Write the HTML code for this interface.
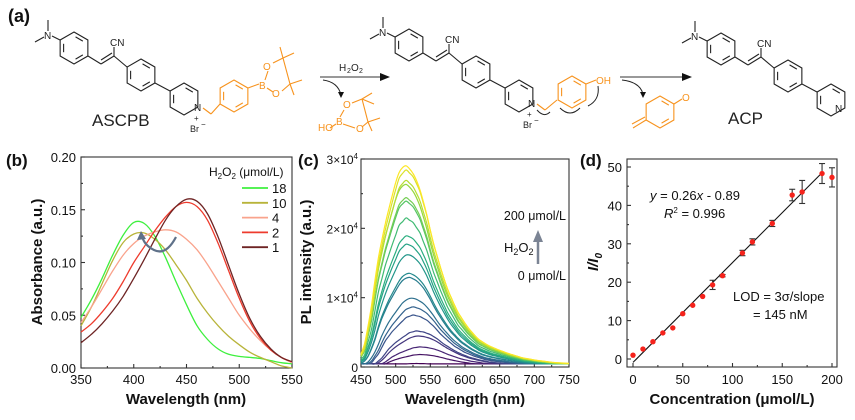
<!DOCTYPE html>
<html><head><meta charset="utf-8"><style>
html,body{margin:0;padding:0;background:#fff}
svg{display:block;font-family:"Liberation Sans",Arial,sans-serif}
</style></head><body>
<svg id="fig" width="855" height="420" viewBox="0 0 855 420" xmlns="http://www.w3.org/2000/svg">
<g id="scheme"></g>
<g id="pb"></g>
<g id="pc"></g>
<g id="pd"></g>
</svg>
<script>
// ---- panel b data ----
const absWl = [350,360,370,380,390,400,410,420,430,440,450,460,470,480,490,500,510,520,530,540,550];
const absLabels = ["18","10","4","2","1"];
const abs18 = [0.048,0.065,0.085,0.107,0.126,0.138,0.137,0.125,0.105,0.082,0.060,0.040,0.027,0.018,0.013,0.011,0.010,0.009,0.007,0.005,0.004];
const abs10 = [0.040,0.058,0.080,0.102,0.119,0.127,0.128,0.122,0.112,0.098,0.083,0.066,0.052,0.040,0.030,0.022,0.015,0.010,0.006,0.002,0.000];
const abs4  = [0.043,0.058,0.075,0.092,0.107,0.118,0.125,0.129,0.131,0.129,0.122,0.112,0.098,0.082,0.066,0.050,0.037,0.026,0.017,0.010,0.005];
const abs2  = [0.034,0.042,0.053,0.066,0.082,0.100,0.115,0.130,0.143,0.153,0.157,0.153,0.140,0.118,0.092,0.066,0.044,0.028,0.017,0.010,0.006];
const abs1  = [0.024,0.032,0.042,0.054,0.068,0.085,0.103,0.122,0.140,0.153,0.160,0.158,0.146,0.124,0.097,0.070,0.047,0.030,0.018,0.010,0.006];
const absYTicks = ["0.00","0.05","0.10","0.15","0.20"];
const absXTicks = [350,400,450,500,550];
// ---- panel c data ----
const plPeaks = [500,1800,2900,4500,5200,7500,8700,10000,13000,13600,16300,17800,19000,21500,24000,24500,26500,27000,28500,29200];
const plPeakWl = [530,535,535,532,530,525,524,522,518,518,517,516,516,515,514,514,513,514,514,513];
const plProfileDx = [-70,-60,-50,-40,-30,-20,-10,0,10,20,30,40,50,60,75,90,105,120,135,150,170,190,215,240];
const plProfile = [0.03,0.08,0.25,0.5,0.68,0.82,0.95,1,0.97,0.9,0.78,0.63,0.51,0.40,0.28,0.20,0.14,0.107,0.085,0.066,0.045,0.033,0.022,0.017];
const plXTicks = [450,500,550,600,650,700,750];
const plYTicks = [0,1,2,3];
// ---- panel d data ----
const concX = [0,10,20,30,40,50,60,70,80,90,110,120,140,160,170,190,200];
const ratioY = [1.0,2.6,4.5,6.8,8.1,11.8,14.0,16.3,19.3,21.7,27.6,30.5,35.3,42.7,43.5,48.3,47.3];
const ratioErr = [0.2,0.2,0.2,0.2,0.2,0.2,0.2,0.2,1.2,0.3,0.7,0.8,0.8,1.5,3.0,2.6,2.5];
const fitSlope = [0.26];
const fitIntercept = [-0.89];
const dXTicks = [0,50,100,150,200];
const dYTicks = [0,10,20,30,40,50];

const NS="http://www.w3.org/2000/svg";
function mk(p,tag,at,txt){const e=document.createElementNS(NS,tag);for(const k in at)e.setAttribute(k,at[k]);if(txt!==undefined)e.textContent=txt;p.appendChild(e);return e;}
function smooth(pts){let d="M"+pts[0][0].toFixed(1)+","+pts[0][1].toFixed(1);for(let i=0;i<pts.length-1;i++){const p0=pts[Math.max(0,i-1)],p1=pts[i],p2=pts[i+1],p3=pts[Math.min(pts.length-1,i+2)];const c1=[p1[0]+(p2[0]-p0[0])/6,p1[1]+(p2[1]-p0[1])/6],c2=[p2[0]-(p3[0]-p1[0])/6,p2[1]-(p3[1]-p1[1])/6];d+="C"+c1[0].toFixed(1)+","+c1[1].toFixed(1)+" "+c2[0].toFixed(1)+","+c2[1].toFixed(1)+" "+p2[0].toFixed(1)+","+p2[1].toFixed(1);}return d;}

// ================= Scheme =================
const S=document.getElementById('scheme');
function line(g,x1,y1,x2,y2,c){return mk(g,'line',{x1,y1,x2,y2,stroke:c||'#222','stroke-width':1.1});}
function hex(g,cx,cy,c,dbl){const r=16,v=[];for(let k=0;k<6;k++){const a=(-90+60*k)*Math.PI/180;v.push([cx+r*Math.cos(a),cy+r*Math.sin(a)]);}
 mk(g,'polygon',{points:v.map(p=>p.join(',')).join(' '),fill:'none',stroke:c,'stroke-width':1.1});
 (dbl||[0,2,4]).forEach(k=>{const a=v[k],b=v[(k+1)%6];const s=0.75;const ax=cx+(a[0]-cx)*s,ay=cy+(a[1]-cy)*s,bx=cx+(b[0]-cx)*s,by=cy+(b[1]-cy)*s;const sh=0.15;line(g,ax+(bx-ax)*sh,ay+(by-ay)*sh,bx-(bx-ax)*sh,by-(by-ay)*sh,c);});}
function txt(g,x,y,t,sz,c,anchor){return mk(g,'text',{x,y,'font-size':sz||10,fill:c||'#222','text-anchor':anchor||'start'},t);}
function core(dx,dy,label){
 const g=mk(S,'g',{});
 
 
 const k='#222';
 hex(g,74+dx,48+dy,k);
 line(g,60+dx,40+dy,52+dx,36+dy,k);txt(g,44+dx,39+dy,'N',10);
 line(g,48+dx,31+dy,48+dx,20+dy,k);line(g,44+dx,37+dy,35+dx,42+dy,k);
 line(g,88+dx,56+dy,101+dx,64+dy,k);line(g,101+dx,64+dy,114+dx,56+dy,k);line(g,101+dx,60+dy,112+dx,53+dy,k);
 line(g,114+dx,56+dy,114+dx,47+dy,k);txt(g,110+dx,46+dy,'CN',10);
 line(g,114+dx,56+dy,127+dx,67+dy,k);
 hex(g,141+dx,75+dy,k);
 line(g,155+dx,83+dy,170+dx,91+dy,k);
 hex(g,184+dx,99+dy,k,[0,4]);
 return g;}
// mol 1
const m1=core(0,0,'ascpb-structure');
txt(m1,194,111,'N',10);txt(m1,194,121,'+',8);txt(m1,190,132,'Br',9);txt(m1,201,127,'−',8);
const O='#f7931e';
line(m1,203,108,211,114,O);line(m1,211,114,220,104,O);
hex(m1,234,96,O);line(m1,248,88,259,84,O);txt(m1,259,89,'B',10,O);
line(m1,265,80,268,71,O);txt(m1,263,70,'O',10,O);line(m1,267,88,273,92,O);txt(m1,272,97,'O',10,O);
line(m1,273,63,283,58,O);line(m1,282,91,290,84,O);line(m1,283,58,290,84,O);
line(m1,283,58,280,47,O);line(m1,283,58,294,53,O);line(m1,290,84,302,80,O);line(m1,290,84,294,95,O);
txt(m1,92,126,'ASCPB',17,'#222');
// arrow 1
const a1=mk(S,'g',{});


line(a1,320,77,382,77,'#333');mk(a1,'polygon',{points:'390,77 380,73 380,81',fill:'#111'});
txt(a1,339,71,'H',10);txt(a1,347,73,'2',7);txt(a1,351,71,'O',10);txt(a1,359,73,'2',7);
mk(a1,'path',{d:'M323,80 Q338,82 341,95',fill:'none',stroke:'#222','stroke-width':1});mk(a1,'polygon',{points:'341,98 338,92 344,92',fill:'#111'});
txt(a1,343,108,'O',10,O);txt(a1,336,125,'B',10,O);txt(a1,356,132,'O',10,O);txt(a1,318,131,'HO',10,O);
line(a1,330,128,336,124,O);line(a1,340,117,344,110,O);line(a1,343,124,355,128,O);
line(a1,352,103,362,99,O);line(a1,362,99,368,122,O);line(a1,362,127,368,122,O);line(a1,362,99,372,93,O);line(a1,362,99,374,104,O);line(a1,368,122,380,118,O);line(a1,368,122,372,131,O);
// mol 2
const m2=core(335,-3,'intermediate-structure');
txt(m2,528,107,'N',10);txt(m2,527,117,'+',8);txt(m2,523,128,'Br',9);txt(m2,534,123,'−',8);
line(m2,537,104,545,110,O);line(m2,545,110,557,100,O);hex(m2,572,92,O);line(m2,586,84,596,80,O);txt(m2,596,84,'OH',10,O);
mk(m2,'path',{d:'M537,110 Q544,118 550,112 M560,108 Q570,118 580,108 M598,86 Q600,100 588,106',fill:'none',stroke:'#222','stroke-width':1});
// arrow 2
const a2=mk(S,'g',{});


line(a2,620,77,684,77,'#333');mk(a2,'polygon',{points:'692,77 682,73 682,81',fill:'#111'});
mk(a2,'path',{d:'M622,80 Q640,82 643,94',fill:'none',stroke:'#222','stroke-width':1});mk(a2,'polygon',{points:'643,98 640,92 646,92',fill:'#111'});
hex(a2,660,112,O,[0,2]);line(a2,646,120,633,128,O);line(a2,645,117,632,124,O);line(a2,674,104,682,99,O);txt(a2,682,101,'O',10,O);
// mol 3
const m3=core(647,1,'acp-structure');
txt(m3,835,112,'N',10);
txt(m3,728,124,'ACP',17,'#222');
txt(S,8,22,'(a)',18,'#111').setAttribute('font-weight','bold');

// ================= generic axis =================
function frame(g,L,R,T,B){mk(g,'rect',{x:L,y:T,width:R-L,height:B-T,fill:'none',stroke:'#333','stroke-width':1.1});}

// ================= Panel b =================
(function(){
 const g=document.getElementById('pb');
 const L=81,R=292,T=157,B=368;
 const xs=v=>L+(v-350)/200*(R-L), ys=v=>B-v/0.2*(B-T);
 frame(g,L,R,T,B);
 absXTicks.forEach(v=>{line(g,xs(v),B,xs(v),B-4,'#333');const t=txt(g,xs(v),384,String(v),13,'#111','middle');});
 for(let v=375;v<550;v+=50)line(g,xs(v),B,xs(v),B-2,'#333');
 absYTicks.forEach(s=>{const v=parseFloat(s);line(g,L,ys(v),L+4,ys(v),'#333');const t=txt(g,L-5,ys(v)+5,s,13,'#111','end');});
 for(let v=0.025;v<0.2;v+=0.05)line(g,L,ys(v),L+2,ys(v),'#333');
 const series=[abs18,abs10,abs4,abs2,abs1], cols=['#3ef03e','#b8b43a','#f9a38c','#ee3b2d','#6e2424'];
 series.forEach((s,i)=>{const p=mk(g,'path',{d:smooth(absWl.map((w,j)=>[xs(w),ys(s[j])])),fill:'none',stroke:cols[i],'stroke-width':1.3});});
 // legend
 const lg=mk(g,'g',{});
 
 
 const lt=mk(lg,'text',{x:209,y:176,'font-size':12,fill:'#111'});lt.innerHTML='H<tspan font-size="8" dy="3">2</tspan><tspan dy="-3">O</tspan><tspan font-size="8" dy="3">2</tspan><tspan dy="-3"> (μmol/L)</tspan>';
 absLabels.forEach((l,i)=>{const y=188+i*14.8;const e=mk(lg,'g',{});line(e,242,y,268,y,cols[i]).setAttribute('stroke-width',1.8);txt(e,272,y+5,l,13,'#111');});
 mk(g,'path',{d:'M176,237 Q166,256 154,250 Q144,245 142,236',fill:'none',stroke:'#5f7189','stroke-width':2.2});
 mk(g,'polygon',{points:'141,231 137,240 146,239',fill:'#5f7189'});
 const xt=txt(g,186,404,'Wavelength (nm)',15,'#111','middle');xt.setAttribute('font-weight','bold');
 const yt=txt(g,0,0,'Absorbance (a.u.)',15,'#111','middle');yt.setAttribute('font-weight','bold');yt.setAttribute('transform','translate(42,262) rotate(-90)');
 const pl=txt(g,6,166,'(b)',17,'#111');pl.setAttribute('font-weight','bold');
})();

// ================= Panel c =================
(function(){
 const g=document.getElementById('pc');
 const L=361,R=569,T=159,B=367;
 const xs=v=>L+(v-450)/300*(R-L), ys=v=>B-v/30000*(B-T);
 frame(g,L,R,T,B);
 plXTicks.forEach(v=>{line(g,xs(v),B,xs(v),B-4,'#333');const t=txt(g,xs(v),384,String(v),13,'#111','middle');});
 for(let v=475;v<750;v+=50)line(g,xs(v),B,xs(v),B-2,'#333');
 plYTicks.forEach(v=>{line(g,L,ys(v*1e4),L+4,ys(v*1e4),'#333');const t=mk(g,'text',{x:L-3,y:ys(v*1e4)+5,'font-size':12,fill:'#111','text-anchor':'end'});if(v===0)t.textContent='0';else t.innerHTML=v+'×10<tspan font-size="8" dy="-5">4</tspan>';});
 for(let v=5000;v<30000;v+=10000)line(g,L,ys(v),L+2,ys(v),'#333');
 function viridis(t){const st=[[68,1,84],[71,44,122],[59,81,139],[44,113,142],[33,144,141],[39,173,129],[92,200,99],[170,220,50],[253,231,37]];const f=t*(st.length-1),i=Math.min(st.length-2,Math.floor(f)),u=f-i;return 'rgb('+st[i].map((c,k)=>Math.round(c+(st[i+1][k]-c)*u)).join(',')+')';}
 const wls=[];for(let w=450;w<=750;w+=5)wls.push(w);
 function prof(dx){if(dx<=plProfileDx[0])return plProfile[0];for(let i=0;i<plProfileDx.length-1;i++){if(dx<=plProfileDx[i+1]){const u=(dx-plProfileDx[i])/(plProfileDx[i+1]-plProfileDx[i]);return plProfile[i]+(plProfile[i+1]-plProfile[i])*u;}}return plProfile[plProfile.length-1];}
 plPeaks.forEach((pk,i)=>{const floor=Math.min(500,pk);const pts=wls.map(w=>[xs(w),ys(Math.max(floor*0.9,pk*prof(w-plPeakWl[i])))]);const p=mk(g,'path',{d:smooth(pts),fill:'none',stroke:viridis(i/(plPeaks.length-1)),'stroke-width':1.2});});
 txt(g,566,220,'200 μmol/L',12.5,'#111','end');
 const h=mk(g,'text',{x:504,y:252,'font-size':13,fill:'#111'});h.innerHTML='H<tspan font-size="9" dy="3">2</tspan><tspan dy="-3">O</tspan><tspan font-size="9" dy="3">2</tspan>';
 line(g,538,264,538,240,'#7b8494').setAttribute('stroke-width',2.5);mk(g,'polygon',{points:'538,230 533,242 543,242',fill:'#7b8494'});
 txt(g,566,280,'0 μmol/L',12.5,'#111','end');
 const xt=txt(g,465,404,'Wavelength (nm)',15,'#111','middle');xt.setAttribute('font-weight','bold');
 const yt=txt(g,0,0,'PL intensity (a.u.)',15,'#111','middle');yt.setAttribute('font-weight','bold');yt.setAttribute('transform','translate(311,262) rotate(-90)');
 const pl=txt(g,298,166,'(c)',17,'#111');pl.setAttribute('font-weight','bold');
})();

// ================= Panel d =================
(function(){
 const g=document.getElementById('pd');
 const L=627,R=837,T=159,B=367;
 const xs=v=>633+v/200*(832-633), ys=v=>359-v/50*(359-167);
 frame(g,L,R,T,B);
 dXTicks.forEach(v=>{line(g,xs(v),B,xs(v),B-4,'#333');const t=txt(g,xs(v),384,String(v),13,'#111','middle');});
 for(let v=25;v<200;v+=50)line(g,xs(v),B,xs(v),B-2,'#333');
 dYTicks.forEach(v=>{line(g,L,ys(v),L+4,ys(v),'#333');const t=txt(g,L-5,ys(v)+5,String(v),13,'#111','end');});
 for(let v=5;v<50;v+=10)line(g,L,ys(v),L+2,ys(v),'#333');
 const fl=line(g,xs(0),ys(fitIntercept[0]),xs(190),ys(fitSlope[0]*190+fitIntercept[0]),'#111');
 concX.forEach((x,i)=>{const e=ratioErr[i];if(e>0.25){const eb=mk(g,'g',{stroke:'#333','stroke-width':1.1});line(eb,xs(x),ys(ratioY[i]-e),xs(x),ys(ratioY[i]+e),'#333');line(eb,xs(x)-3,ys(ratioY[i]-e),xs(x)+3,ys(ratioY[i]-e),'#333');line(eb,xs(x)-3,ys(ratioY[i]+e),xs(x)+3,ys(ratioY[i]+e),'#333');}
  const c=mk(g,'circle',{cx:xs(x),cy:ys(ratioY[i]),r:2.7,fill:'#f5231c'});});
 const eq=mk(g,'text',{x:650,y:200,'font-size':13,fill:'#111'});eq.innerHTML='<tspan font-style="italic">y</tspan> = 0.26<tspan font-style="italic">x</tspan> - 0.89';
 const r2=mk(g,'text',{x:664,y:218,'font-size':13,fill:'#111'});r2.innerHTML='<tspan font-style="italic">R</tspan><tspan font-size="8" dy="-5">2</tspan><tspan dy="5"> = 0.996</tspan>';
 txt(g,733,301,'LOD = 3σ/slope',13,'#111');txt(g,753,319,'= 145 nM',13,'#111');
 const xt=txt(g,732,404,'Concentration (μmol/L)',15,'#111','middle');xt.setAttribute('font-weight','bold');
 const yt=mk(g,'text',{transform:'translate(598,262) rotate(-90)','font-size':15,'font-weight':'bold','font-style':'italic',fill:'#111','text-anchor':'middle'});yt.innerHTML='I/I<tspan font-size="10" dy="4">0</tspan>';
 const pl=txt(g,580,166,'(d)',17,'#111');pl.setAttribute('font-weight','bold');
})();
</script>
</body></html>
